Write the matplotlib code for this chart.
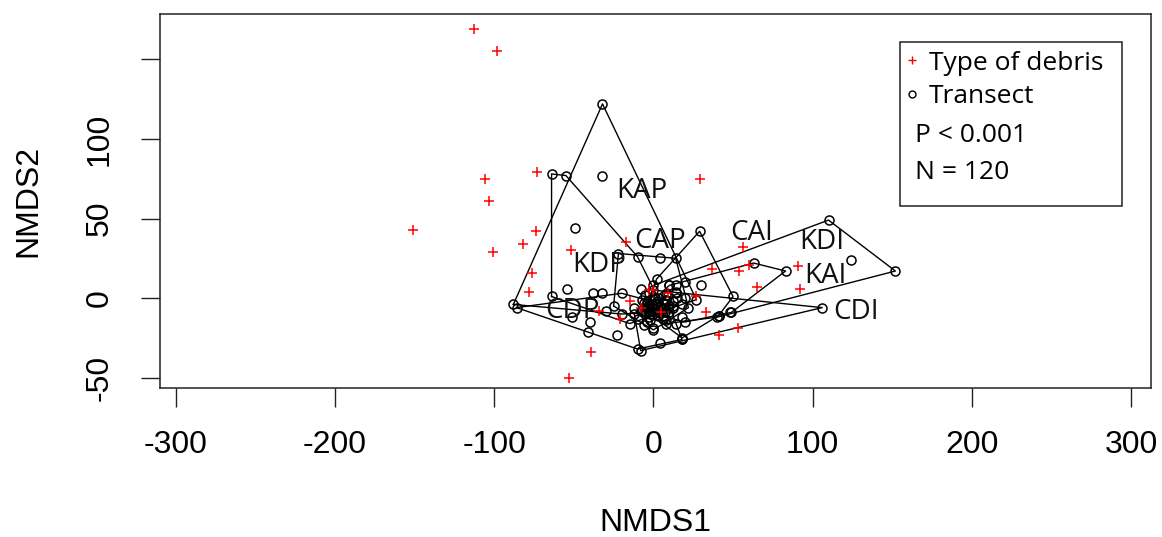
import numpy as np
import matplotlib
matplotlib.use("Agg")
import matplotlib.pyplot as plt
from matplotlib.lines import Line2D
from matplotlib.patches import Rectangle

# ---------------- datos ----------------
# sitios (transectos) por tratamiento
kap_x = [-32, -88, -20, 27, -32, -4, 3, -8, 0, 7, -5, 1, -3, 5, 8]
kap_y = [122, -4, -10, -1, 77, -2, -9, -8, -5, -4, 2, 0, -7, -7, -1]
kdp_x = [-64, -55, -64, -10, -15, -3, 6, -49, -54, -38, -32, -12, -6, -1, -7]
kdp_y = [78, 77, 1, 26, -16, -12, -6, 44, 6, 3, 3, -6, -9, -4, -1]
cdp_x = [-86, -41, -23, -10, 4, 18, 10, -20, -40, -51, -5, -10, -2, -30, -6]
cdp_y = [-6, -21, -23, -32, -28, -26, -5, 3, -15, -12, -10, -13, -14, -8, -17]
cap_x = [-22, 4, 14, 22, 0, -25, -3, 3, -6, 5, -2, 8, -8, 2, -4]
cap_y = [28, 25, 25, -6, -20, -5, 3, 0, -3, -9, -10, 2, 6, -3, -6]
cai_x = [29, 50, 41, 18, -5, 2, 8, 12, 6, 14, 3, 10, 0, 8, 20]
cai_y = [42, 1, -11, -25, -8, 12, -2, -6, -11, 4, -4, 8, -6, -14, 10]
kai_x = [83, 63, 49, 10, 0, 20, 20, 9, 3, 14, -3, 7, 30, 1, 12]
kai_y = [17, 22, -9, 8, -10, -15, 0, -6, -2, 3, -4, -9, 8, -7, -2]
kdi_x = [110, 152, 124, 40, 8, 0, 14, 18, 6, -3, 10, 3, 9, 1, 15]
kdi_y = [49, 17, 24, -12, -16, 8, 8, -4, -3, -5, -9, -11, 2, -4, 0]
cdi_x = [106, 48, 41, 18, -8, -12, 0, 12, 6, 18, 3, -4, 8, 14, 0]
cdi_y = [-6, -9, -11, -26, -33, -10, 5, -5, -13, -12, -8, -15, -1, -16, -19]

grupos = ["KAP", "KDP", "CDP", "CAP", "CAI", "KAI", "KDI", "CDI"]
sitios_x = [kap_x, kdp_x, cdp_x, cap_x, cai_x, kai_x, kdi_x, cdi_x]
sitios_y = [kap_y, kdp_y, cdp_y, cap_y, cai_y, kai_y, kdi_y, cdi_y]
etiq_x = [-7, -34, -51, 4, 62, 108, 106, 127]
etiq_y = [67, 21, -8, 36, 41, 14, 35, -9]

# tipos de residuo (scores de especies)
esp_x = [-113, -98, -73, -106, -103, 29, -74, -82, -101, -52, -76, -78, -17, -151,
         0, -3, -15, -34, -21, 5, 27, -39, 33, -53, 56, 37, 54, 60, 65, 91, 92,
         53, 41, -8, 9]
esp_y = [169, 155, 79, 75, 61, 75, 42, 34, 29, 30, 16, 4, 35, 43,
         5, 5, -2, -8, -13, -9, 1, -34, -9, -50, 32, 18, 17, 21, 7, 20, 6,
         -19, -23, -6, 3]

xticks = [-300, -200, -100, 0, 100, 200, 300]
yticks = [-50, 0, 50, 100, 150]
ytick_labels = ["-50", "0", "50", "100", ""]


def convex_hull(px, py):
    pts = sorted(set(zip(px, py)))
    def cross(o, a, b):
        return (a[0] - o[0]) * (b[1] - o[1]) - (a[1] - o[1]) * (b[0] - o[0])
    lower, upper = [], []
    for p in pts:
        while len(lower) >= 2 and cross(lower[-2], lower[-1], p) <= 0:
            lower.pop()
        lower.append(p)
    for p in reversed(pts):
        while len(upper) >= 2 and cross(upper[-2], upper[-1], p) <= 0:
            upper.pop()
        upper.append(p)
    h = lower[:-1] + upper[:-1]
    return np.array(h + [h[0]])


plt.rcParams["font.family"] = ["Liberation Sans", "DejaVu Sans"]
plt.rcParams["axes.unicode_minus"] = False
fig = plt.figure(figsize=(11.62, 5.37), dpi=100)
ax = fig.add_axes([160 / 1162, 1 - 388 / 537, 991 / 1162, 374 / 537])

for gx, gy in zip(sitios_x, sitios_y):
    h = convex_hull(gx, gy)
    ax.plot(h[:, 0], h[:, 1], color="black", lw=1.0, zorder=2)
for gx, gy in zip(sitios_x, sitios_y):
    ax.plot(gx, gy, ls="none", marker="o", ms=6.5, mfc="none", mec="black", mew=1.1, zorder=3)
ax.plot(esp_x, esp_y, ls="none", marker="+", ms=7.5, mec="red", mew=1.1, zorder=4)

lab_font = ["Open Sans", "DejaVu Sans"]
for name, lx, ly in zip(grupos, etiq_x, etiq_y):
    ax.text(lx, ly, name, ha="center", va="center", fontsize=20, family=lab_font,
            color="#111111", zorder=5)

ax.set_xlim(-310, 312.6)
ax.set_ylim(-56.5, 178.5)
ax.set_xticks(xticks)
ax.set_yticks(yticks)
ax.set_yticklabels(ytick_labels, rotation=90, va="center")
ax.tick_params(axis="both", length=13.5, width=1.0, labelsize=23, color="#222222")
ax.tick_params(axis="x", pad=17)
ax.tick_params(axis="y", pad=19)
for s in ax.spines.values():
    s.set_linewidth(1.1)
    s.set_color("#222222")
ax.set_xlabel("NMDS1", fontsize=23, labelpad=34)
ax.set_ylabel("NMDS2", fontsize=23, labelpad=30)

# leyenda
ax.add_patch(Rectangle((0.7467, 0.4866), 0.224, 0.4385, transform=ax.transAxes,
                       fill=False, lw=1.1, ec="#222222", zorder=6))
handles = [Line2D([], [], ls="none", marker="+", ms=6, mec="red", mew=1.0),
           Line2D([], [], ls="none", marker="o", ms=5, mfc="none", mec="black", mew=1.0)]
ax.legend(handles, ["Type of debris", "Transect"], loc="upper left",
          bbox_to_anchor=(0.748, 0.902), frameon=False, prop={"family": lab_font, "size": 19},
          handlelength=0.8, handletextpad=0.25, borderpad=0, borderaxespad=0, labelspacing=0.33)
ax.text(0.7619, 0.6738, "P < 0.001", transform=ax.transAxes, va="center", ha="left",
        fontsize=19, family=lab_font)
ax.text(0.7619, 0.5775, "N = 120", transform=ax.transAxes, va="center", ha="left",
        fontsize=19, family=lab_font)

fig.savefig("out.png", dpi=100)
